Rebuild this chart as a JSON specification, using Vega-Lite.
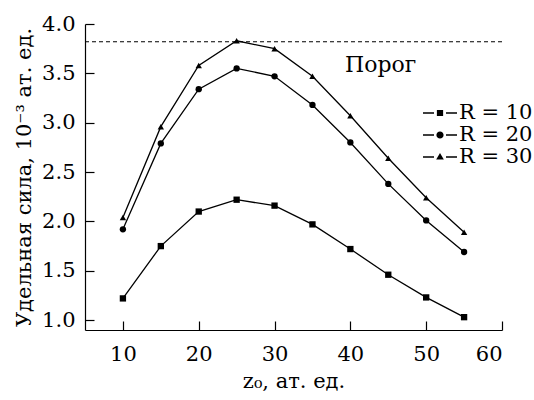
{
  "$schema": "https://vega.github.io/schema/vega-lite/v6.json",
  "width": 417,
  "height": 306,
  "autosize": "none",
  "padding": {"left": 85, "top": 24, "right": 32, "bottom": 70},
  "background": "white",
  "config": {
    "view": {"stroke": null},
    "font": "DejaVu Serif",
    "axis": {
      "grid": false,
      "domainColor": "black",
      "tickColor": "black",
      "labelColor": "black",
      "titleColor": "black",
      "labelFont": "DejaVu Serif",
      "titleFont": "DejaVu Serif",
      "labelFontSize": 21,
      "titleFontSize": 21,
      "titleFontWeight": "normal",
      "tickSize": -9,
      "domainWidth": 1.2,
      "tickWidth": 1.2
    },
    "legend": {"labelFont": "DejaVu Serif", "padding": 0}
  },
  "datasets": {
    "series": [
      {"z": 10, "F": 1.22, "R": "10"},
      {"z": 15, "F": 1.75, "R": "10"},
      {"z": 20, "F": 2.10, "R": "10"},
      {"z": 25, "F": 2.22, "R": "10"},
      {"z": 30, "F": 2.16, "R": "10"},
      {"z": 35, "F": 1.97, "R": "10"},
      {"z": 40, "F": 1.72, "R": "10"},
      {"z": 45, "F": 1.46, "R": "10"},
      {"z": 50, "F": 1.23, "R": "10"},
      {"z": 55, "F": 1.03, "R": "10"},
      {"z": 10, "F": 1.92, "R": "20"},
      {"z": 15, "F": 2.79, "R": "20"},
      {"z": 20, "F": 3.34, "R": "20"},
      {"z": 25, "F": 3.55, "R": "20"},
      {"z": 30, "F": 3.47, "R": "20"},
      {"z": 35, "F": 3.18, "R": "20"},
      {"z": 40, "F": 2.80, "R": "20"},
      {"z": 45, "F": 2.38, "R": "20"},
      {"z": 50, "F": 2.01, "R": "20"},
      {"z": 55, "F": 1.69, "R": "20"},
      {"z": 10, "F": 2.04, "R": "30"},
      {"z": 15, "F": 2.96, "R": "30"},
      {"z": 20, "F": 3.58, "R": "30"},
      {"z": 25, "F": 3.83, "R": "30"},
      {"z": 30, "F": 3.75, "R": "30"},
      {"z": 35, "F": 3.47, "R": "30"},
      {"z": 40, "F": 3.07, "R": "30"},
      {"z": 45, "F": 2.64, "R": "30"},
      {"z": 50, "F": 2.24, "R": "30"},
      {"z": 55, "F": 1.89, "R": "30"}
    ]
  },
  "layer": [
    {
      "data": {"name": "series"},
      "mark": {"type": "line", "color": "black", "strokeWidth": 1.3},
      "encoding": {
        "x": {"field": "z", "type": "quantitative", "scale": {"domain": [5, 60], "nice": false, "zero": false},
              "axis": {"values": [10, 20, 30, 40, 50, 60], "title": "z₀, ат. ед.", "titlePadding": 6, "labelPadding": 22}},
        "y": {"field": "F", "type": "quantitative", "scale": {"domain": [0.9, 4.0], "nice": false, "zero": false},
              "axis": {"values": [1, 1.5, 2, 2.5, 3, 3.5, 4], "format": ".1f", "title": "Удельная сила, 10⁻³ ат. ед.", "titlePadding": 7, "labelPadding": 19}},
        "detail": {"field": "R"}
      }
    },
    {
      "data": {"values": [{"F": 3.82}]},
      "mark": {"type": "rule", "color": "black", "strokeDash": [4, 3], "strokeWidth": 1.1},
      "encoding": {"y": {"field": "F", "type": "quantitative", "scale": {"domain": [0.9, 4.0], "nice": false, "zero": false}}}
    },
    {
      "data": {"values": [{"z": 39.3, "F": 3.51, "label": "Порог"}]},
      "mark": {"type": "text", "align": "left", "baseline": "alphabetic", "font": "DejaVu Serif", "fontSize": 22, "color": "black"},
      "encoding": {
        "x": {"field": "z", "type": "quantitative", "scale": {"domain": [5, 60], "nice": false, "zero": false}},
        "y": {"field": "F", "type": "quantitative", "scale": {"domain": [0.9, 4.0], "nice": false, "zero": false}},
        "text": {"field": "label"}
      }
    },
    {
      "data": {"name": "series"},
      "mark": {"type": "point", "filled": true, "color": "black", "opacity": 1, "size": 40},
      "encoding": {
        "x": {"field": "z", "type": "quantitative", "scale": {"domain": [5, 60], "nice": false, "zero": false}},
        "y": {"field": "F", "type": "quantitative", "scale": {"domain": [0.9, 4.0], "nice": false, "zero": false}},
        "shape": {"field": "R", "type": "nominal", "scale": {"range": ["square", "circle", "triangle-up"]}, "legend": null}
      }
    },
    {
      "data": {"name": "series"},
      "mark": {"type": "point", "filled": true, "color": "black", "opacity": 0},
      "encoding": {
        "x": {"field": "z", "type": "quantitative", "scale": {"domain": [5, 60], "nice": false, "zero": false}},
        "y": {"field": "F", "type": "quantitative", "scale": {"domain": [0.9, 4.0], "nice": false, "zero": false}},
        "shape": {
          "field": "R", "type": "nominal",
          "scale": {"range": [
            "M-1.42,-0.07H-0.5V0.07H-1.42Z M0.5,-0.07H1.42V0.07H0.5Z M-0.26,-0.26H0.26V0.26H-0.26Z",
            "M-1.42,-0.07H-0.5V0.07H-1.42Z M0.5,-0.07H1.42V0.07H0.5Z M0.3,0A0.3,0.3 0 1,1 -0.3,0A0.3,0.3 0 1,1 0.3,0Z",
            "M-1.42,-0.07H-0.5V0.07H-1.42Z M0.5,-0.07H1.42V0.07H0.5Z M0,-0.34L0.32,0.2H-0.32Z"
          ]},
          "legend": {
            "title": null,
            "orient": "none",
            "legendX": 343,
            "legendY": 77,
            "symbolSize": 576,
            "symbolOpacity": 1,
            "symbolFillColor": "black",
            "symbolStrokeWidth": 0,
            "labelExpr": "'R = ' + datum.label",
            "labelFont": "DejaVu Serif",
            "labelFontSize": 21,
            "labelColor": "black",
            "labelOffset": 7,
            "rowPadding": 0
          }
        }
      }
    }
  ],
  "resolve": {"scale": {"shape": "independent"}, "legend": {"shape": "independent"}}
}
